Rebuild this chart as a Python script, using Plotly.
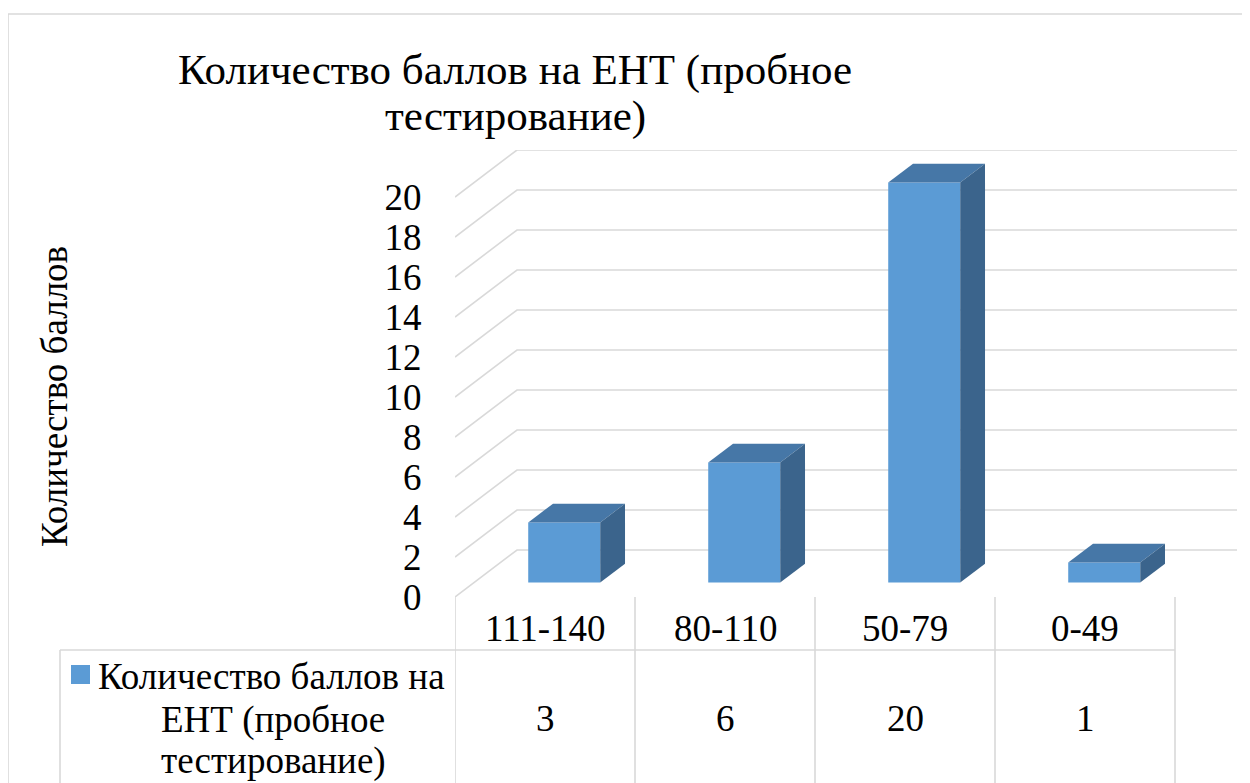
import plotly.graph_objects as go

# ---------------- data ----------------
categories = ["111-140", "80-110", "50-79", "0-49"]
values = [3, 6, 20, 1]
series_lines = ["Количество баллов на", "ЕНТ (пробное", "тестирование)"]
title_lines = ["Количество баллов на ЕНТ (пробное", "тестирование)"]
y_title = "Количество баллов"
y_ticks = [0, 2, 4, 6, 8, 10, 12, 14, 16, 18, 20]
y_ticktext = [str(t) for t in y_ticks]

# ---------------- geometry / style ----------------
OFF = 8                        # page body margin
W, H = 1250, 783
ML = 455 - OFF
MT = 150 - OFF
MR = W - (1237 - OFF)
MB = H - (597 - OFF)
PW = W - ML - MR
PH = H - MT - MB
PX_PER_CAT = 180.0
PX_PER_UNIT = 20.0
DX = 62 / PX_PER_CAT          # depth offset in category units
DY = 47 / PX_PER_UNIT         # depth offset in value units
X0 = -0.5
X1 = X0 + PW / PX_PER_CAT
Y1 = PH / PX_PER_UNIT
F0, F1 = 0.31, 0.71           # bar depth position (front / back fraction)
BW = 0.4

FRONT = "#5b9bd5"
TOP = "#4677a7"
SIDE = "#3b648c"
GRID = "#d9d9d9"
FONT = "Liberation Serif, Times New Roman, serif"
TITLE_SIZE = 43
TEXT_SIZE = 37
TICK_SIZE = 37


def paper_x(px):
    return (px - OFF - ML) / PW


def paper_y(py):
    return (H - MB - (py - OFF)) / PH


fig = go.Figure()

# front faces of bars
fig.add_trace(go.Bar(
    x=[i + F0 * DX for i in range(len(categories))],
    y=values,
    base=F0 * DY,
    width=BW,
    marker=dict(color=FRONT, line=dict(width=0)),
    hoverinfo="skip",
    showlegend=False,
))

# top and side faces
for i, v in enumerate(values):
    xl, xr = i - BW / 2, i + BW / 2
    fig.add_trace(go.Scatter(
        x=[xl + F0 * DX, xr + F0 * DX, xr + F1 * DX, xl + F1 * DX, xl + F0 * DX],
        y=[v + F0 * DY, v + F0 * DY, v + F1 * DY, v + F1 * DY, v + F0 * DY],
        mode="lines", fill="toself", fillcolor=TOP,
        line=dict(width=0, color=TOP), hoverinfo="skip", showlegend=False,
    ))
    fig.add_trace(go.Scatter(
        x=[xr + F0 * DX, xr + F1 * DX, xr + F1 * DX, xr + F0 * DX, xr + F0 * DX],
        y=[F0 * DY, F1 * DY, v + F1 * DY, v + F0 * DY, F0 * DY],
        mode="lines", fill="toself", fillcolor=SIDE,
        line=dict(width=0, color=SIDE), hoverinfo="skip", showlegend=False,
    ))

shapes = []
# gridlines: side wall diagonal + back wall horizontal
for t in y_ticks:
    shapes.append(dict(
        type="path", xref="x", yref="y", layer="below",
        path=f"M {X0},{t} L {X0 + DX},{t + DY} L {X1},{t + DY}",
        line=dict(color=GRID, width=1.6),
    ))

# data table lines
n = len(categories)
for k in range(n + 1):
    xk = X0 + k
    shapes.append(dict(
        type="line", xref="x", yref="paper",
        x0=xk, x1=xk, y0=paper_y(597), y1=paper_y(800),
        line=dict(color=GRID, width=1.6),
    ))
shapes.append(dict(
    type="line", xref="paper", yref="paper",
    x0=paper_x(60), x1=paper_x(455 + n * PX_PER_CAT), y0=paper_y(650), y1=paper_y(650),
    line=dict(color=GRID, width=1.6),
))
shapes.append(dict(
    type="line", xref="paper", yref="paper",
    x0=paper_x(60), x1=paper_x(60), y0=paper_y(650), y1=paper_y(800),
    line=dict(color=GRID, width=1.6),
))
# outer chart border (top and left)
shapes.append(dict(
    type="line", xref="paper", yref="paper",
    x0=paper_x(8), x1=paper_x(1249), y0=paper_y(14), y1=paper_y(14),
    line=dict(color=GRID, width=1.6),
))
shapes.append(dict(
    type="line", xref="paper", yref="paper",
    x0=paper_x(8), x1=paper_x(8), y0=paper_y(14), y1=paper_y(800),
    line=dict(color=GRID, width=1.6),
))
# legend key
shapes.append(dict(
    type="rect", xref="paper", yref="paper",
    x0=paper_x(71), x1=paper_x(90), y0=paper_y(665), y1=paper_y(684),
    fillcolor=FRONT, line=dict(width=0),
))

annotations = []
# title
for txt, py in zip(title_lines, [70, 116]):
    annotations.append(dict(
        text=txt, xref="paper", yref="paper", x=paper_x(515), y=paper_y(py),
        xanchor="center", yanchor="middle", showarrow=False,
        font=dict(family=FONT, size=TITLE_SIZE, color="black"),
    ))
# y axis title
annotations.append(dict(
    text=y_title, xref="paper", yref="paper", x=paper_x(54), y=paper_y(397),
    xanchor="center", yanchor="middle", textangle=-90, showarrow=False,
    font=dict(family=FONT, size=TEXT_SIZE, color="black"),
))
# category row and value row
for i, (c, v) in enumerate(zip(categories, values)):
    annotations.append(dict(
        text=c, xref="x", yref="paper", x=i, y=paper_y(628),
        xanchor="center", yanchor="middle", showarrow=False,
        font=dict(family=FONT, size=TEXT_SIZE, color="black"),
    ))
    annotations.append(dict(
        text=str(v), xref="x", yref="paper", x=i, y=paper_y(718),
        xanchor="center", yanchor="middle", showarrow=False,
        font=dict(family=FONT, size=TEXT_SIZE, color="black"),
    ))
# series name in table
annotations.append(dict(
    text=series_lines[0], xref="paper", yref="paper", x=paper_x(96), y=paper_y(676),
    xanchor="left", yanchor="middle", showarrow=False,
    font=dict(family=FONT, size=TEXT_SIZE, color="black"),
))
for txt, py in zip(series_lines[1:], [720, 761]):
    annotations.append(dict(
        text=txt, xref="paper", yref="paper", x=paper_x(273), y=paper_y(py),
        xanchor="center", yanchor="middle", showarrow=False,
        font=dict(family=FONT, size=TEXT_SIZE, color="black"),
    ))

fig.update_layout(
    width=W, height=H,
    margin=dict(l=ML, r=MR, t=MT, b=MB, autoexpand=False),
    paper_bgcolor="white", plot_bgcolor="white",
    barmode="overlay",
    showlegend=False,
    shapes=shapes,
    annotations=annotations,
    font=dict(family=FONT),
    xaxis=dict(range=[X0, X1], visible=False, fixedrange=True),
    yaxis=dict(
        range=[0, Y1], tickmode="array", tickvals=y_ticks, ticktext=y_ticktext,
        showgrid=False, zeroline=False, showline=False,
        ticks="outside", ticklen=25, tickcolor="rgba(0,0,0,0)",
        tickfont=dict(family=FONT, size=TICK_SIZE, color="black"),
        fixedrange=True,
    ),
)

fig.write_html("out.html")
